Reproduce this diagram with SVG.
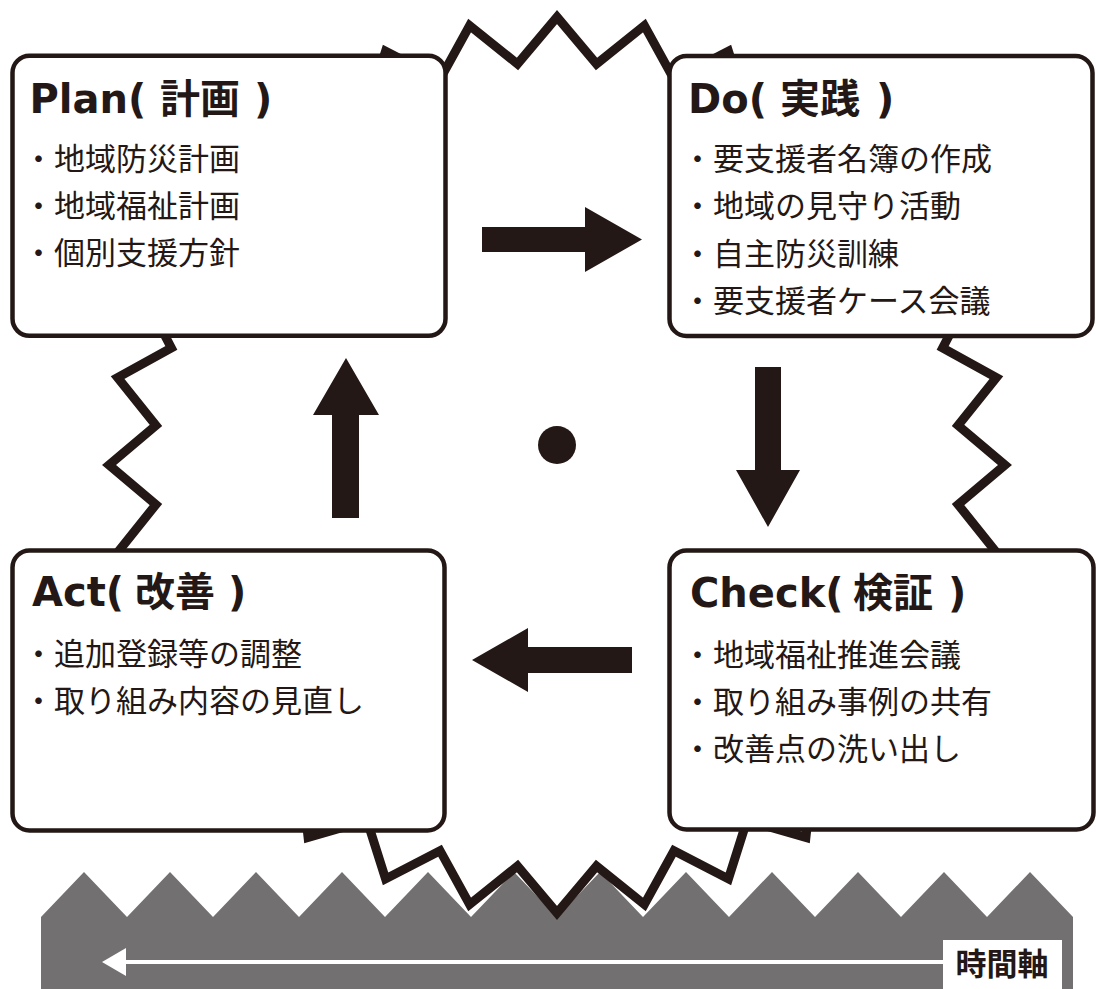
<svg xmlns="http://www.w3.org/2000/svg" width="1096" height="989" viewBox="0 0 1096 989">
<style>
.box{fill:#fff;stroke:#231815;stroke-width:4.5}
.ttl{font-family:"DejaVu Sans","Noto Sans CJK JP",sans-serif;font-weight:bold;font-size:40px;fill:#231815}
.cj{font-family:"Noto Sans CJK JP",sans-serif;font-weight:bold;font-size:40px}
.itm{font-family:"Noto Sans CJK JP",sans-serif;font-size:31px;fill:#231815}
.arr{fill:#231815}
</style>
<rect width="1096" height="989" fill="#fff"/>
<g id="timeline">
<polygon fill="#727071" points="41,989 41,917 84,872 127,917 170,872 213,917 256,872 299,917 342,872 385,917 428,872 471,917 514,872 557,917 600,872 643,917 686,872 729,917 772,872 815,917 858,872 901,917 944,872 987,917 1030,872 1073,917 1073,989"/>
<line x1="120" y1="962" x2="945" y2="962" stroke="#fff" stroke-width="4"/>
<polygon fill="#fff" points="102,962 126,948 126,976"/>
<rect x="943" y="940" width="119" height="52" fill="#fff"/>
<text x="1002" y="975" text-anchor="middle" style="font-family:'Noto Sans CJK JP',sans-serif;font-weight:bold;font-size:31px;fill:#231815">時間軸</text>
</g>
<g id="burst">
<polygon fill="#fff" stroke="#231815" stroke-width="9" stroke-linejoin="miter" points="557,17 596.5,63.94 644.4,25.61 673.98,79.35 728.44,51.1 746.97,109.59 805.9,92.5 812.66,153.48 873.78,148.22 868.52,209.34 929.5,216.1 912.41,275.03 970.9,293.56 942.65,348.02 996.39,377.6 958.06,425.5 1005,465 958.06,504.5 996.39,552.4 942.65,581.98 970.9,636.44 912.41,654.97 929.5,713.9 868.52,720.66 873.78,781.78 812.66,776.52 805.9,837.5 746.97,820.41 728.44,878.9 673.98,850.65 644.4,904.39 596.5,866.06 557,913 517.5,866.06 469.6,904.39 440.02,850.65 385.56,878.9 367.03,820.41 308.1,837.5 301.34,776.52 240.22,781.78 245.48,720.66 184.5,713.9 201.59,654.97 143.1,636.44 171.35,581.98 117.61,552.4 155.94,504.5 109,465 155.94,425.5 117.61,377.6 171.35,348.02 143.1,293.56 201.59,275.03 184.5,216.1 245.48,209.34 240.22,148.22 301.34,153.48 308.1,92.5 367.03,109.59 385.56,51.1 440.02,79.35 469.6,25.61 517.5,63.94"/>
<circle cx="557" cy="445" r="19" fill="#231815"/>
</g>
<g id="connectors">
<polygon class="arr" points="482,227 585,227 585,207 642,239.5 585,272 585,252 482,252"/>
<polygon class="arr" points="755,367 781,367 781,470 800,470 768,527 736,470 755,470"/>
<polygon class="arr" points="632,647 528,647 528,628 472,660 528,692 528,673 632,673"/>
<polygon class="arr" points="332,518 332,415 313,415 346,358 379,415 359,415 359,518"/>
</g>
<g id="plan">
<rect class="box" x="12.5" y="55.8" width="433" height="280" rx="17"/>
<text class="ttl" x="29.5" y="113">Plan( <tspan class="cj" x="160">計画</tspan> <tspan x="254">)</tspan></text>
<text class="itm" x="23" y="170">・地域防災計画</text>
<text class="itm" x="23" y="217">・地域福祉計画</text>
<text class="itm" x="23" y="264">・個別支援方針</text>
</g>
<g id="do">
<rect class="box" x="669.5" y="56" width="423" height="280" rx="17"/>
<text class="ttl" x="688" y="113">Do( <tspan class="cj" x="780">実践</tspan> <tspan x="876">)</tspan></text>
<text class="itm" x="682" y="170">・要支援者名簿の作成</text>
<text class="itm" x="682" y="217">・地域の見守り活動</text>
<text class="itm" x="682" y="265">・自主防災訓練</text>
<text class="itm" x="682" y="312">・要支援者ケース会議</text>
</g>
<g id="act">
<rect class="box" x="12.5" y="550.5" width="432" height="280" rx="17"/>
<text class="ttl" x="32" y="606">Act( <tspan class="cj" x="135">改善</tspan> <tspan x="228">)</tspan></text>
<text class="itm" x="23" y="665">・追加登録等の調整</text>
<text class="itm" x="23" y="712">・取り組み内容の見直し</text>
</g>
<g id="check">
<rect class="box" x="669.5" y="550.5" width="424" height="279" rx="17"/>
<text class="ttl" x="690" y="607">Check( <tspan class="cj" x="853">検証</tspan> <tspan x="948">)</tspan></text>
<text class="itm" x="682" y="666">・地域福祉推進会議</text>
<text class="itm" x="682" y="713">・取り組み事例の共有</text>
<text class="itm" x="682" y="760">・改善点の洗い出し</text>
</g>
</svg>
